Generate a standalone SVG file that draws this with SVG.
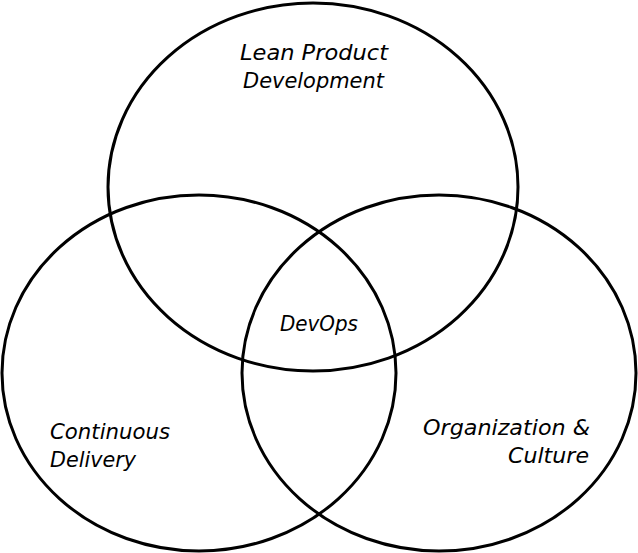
<svg xmlns="http://www.w3.org/2000/svg" width="638" height="553" viewBox="0 0 638 553">
<style>
.c{fill:none;stroke:#000;stroke-width:3}
.t{font-family:"DejaVu Sans","Liberation Sans",sans-serif;font-style:italic;font-size:22px;fill:#000}
</style>
<rect width="638" height="553" fill="#fff"/>
<g id="connectors"></g>
<g id="lean">
<ellipse class="c" cx="313" cy="187" rx="205" ry="184"/>
<text class="t" x="240" y="60" textLength="148" lengthAdjust="spacingAndGlyphs">Lean Product</text>
<text class="t" x="243" y="88" textLength="141" lengthAdjust="spacingAndGlyphs">Development</text>
</g>
<g id="cd">
<ellipse class="c" cx="199" cy="373" rx="197" ry="178"/>
<text class="t" x="50" y="439" textLength="120" lengthAdjust="spacingAndGlyphs">Continuous</text>
<text class="t" x="50" y="467" textLength="86" lengthAdjust="spacingAndGlyphs">Delivery</text>
</g>
<g id="org">
<ellipse class="c" cx="439" cy="373" rx="197" ry="178"/>
<text class="t" x="423" y="435" textLength="167" lengthAdjust="spacingAndGlyphs">Organization &amp;</text>
<text class="t" x="508" y="463" textLength="81" lengthAdjust="spacingAndGlyphs">Culture</text>
</g>
<g id="devops">
<text class="t" x="280" y="331" textLength="78" lengthAdjust="spacingAndGlyphs">DevOps</text>
</g>
</svg>
